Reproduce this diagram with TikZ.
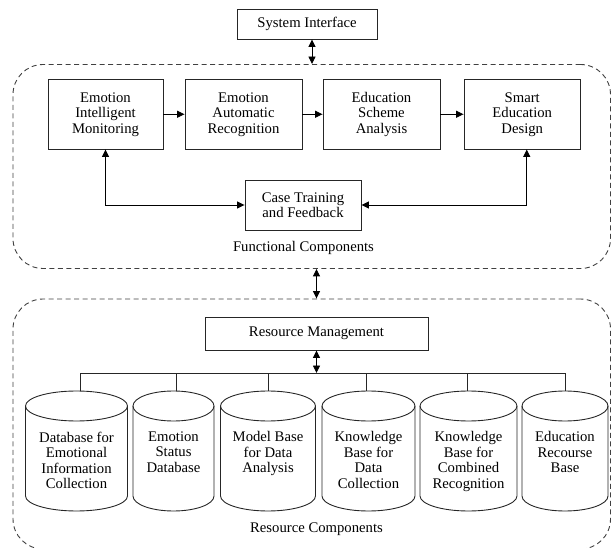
\documentclass[tikz,border=0pt]{standalone}
\usepackage{fontspec}
\setmainfont{Liberation Serif}
\usetikzlibrary{arrows.meta}
\newcommand\dbcyl[2]{%
  \draw[cylline] (#1-#2,406) -- (#1-#2,496) arc[start angle=180,end angle=360,x radius=#2pt,y radius=15pt] -- (#1+#2,406);
  \draw[cylline] (#1,406) ellipse[x radius=#2pt,y radius=15pt];}
\begin{document}
\begin{tikzpicture}[x=1pt,y=-1pt,
  txt/.style={font=\fontsize{14.7}{15.5}\selectfont},
  box/.style={txt, draw=black!85, line width=0.9pt, inner sep=0pt, align=center},
  container/.style={draw=black!75, line width=0.9pt, dash pattern=on 5pt off 3.5pt, rounded corners=30pt, inner sep=0pt},
  arr/.style={draw=black, line width=0.9pt, -{Triangle[length=7.5pt,width=7pt]}},
  dbl/.style={draw=black, line width=0.9pt, {Triangle[length=7.5pt,width=7pt]}-{Triangle[length=7.5pt,width=7pt]}},
  lbl/.style={txt, inner sep=0pt},
  cyltext/.style={txt, align=center, anchor=north, inner sep=0pt},
  cylline/.style={draw=black!85, line width=0.9pt},
  bus/.style={draw=black!85, line width=0.9pt}
]
\useasboundingbox (0,0) rectangle (611,548);

% containers
\node[container, minimum width=597.5pt, minimum height=204pt] (fc) at (311.75,166.5) {};
\node[container, minimum width=597.5pt, minimum height=250pt] (rc) at (311.75,424) {};

% top part
\node[box, minimum width=140pt, minimum height=30pt] (si) at (307,24) {System Interface};
\node[box, minimum width=115pt, minimum height=69.5pt] (b1) at (105.5,114.25) {Emotion\\Intelligent\\Monitoring};
\node[box, minimum width=117pt, minimum height=69.5pt] (b2) at (243.5,114.25) {Emotion\\Automatic\\Recognition};
\node[box, minimum width=117pt, minimum height=69.5pt] (b3) at (381.5,114.25) {Education\\Scheme\\Analysis};
\node[box, minimum width=116.5pt, minimum height=69.5pt] (b4) at (522.25,114.25) {Smart\\Education\\Design};
\node[box, minimum width=116pt, minimum height=50pt] (case) at (303,205) {Case Training\\and Feedback};
\node[lbl] (fclbl) at (303.5,248) {Functional Components};

\draw[dbl] ([xshift=5pt]si.south) -- ([xshift=5pt]si.south |- fc.north);
\draw[arr] (b1.east) -- (b2.west);
\draw[arr] (b2.east) -- (b3.west);
\draw[arr] (b3.east) -- (b4.west);
\draw[dbl] (b1.south) |- (case.west);
\draw[dbl] ([xshift=4.5pt]b4.south) |- (case.east);

% bottom part
\node[box, minimum width=223pt, minimum height=33pt] (rm) at (316.5,333.5) {Resource Management};
\draw[dbl] (rm.north |- fc.south) -- (rm.north |- rc.north);
\coordinate (bus) at (316.5,373);
\draw[dbl] (rm.south) -- (bus);

\dbcyl{76.5}{51}
\dbcyl{173.5}{40.5}
\dbcyl{268}{47.5}
\dbcyl{368.5}{46.5}
\dbcyl{468.5}{48.5}
\dbcyl{565}{43}

\coordinate (c1) at (80,391.2);
\coordinate (c2) at (176,391.2);
\coordinate (c3) at (268,391);
\coordinate (c4) at (366,391.1);
\coordinate (c5) at (467,391);
\coordinate (c6) at (565,391);

\node[cyltext] (t1) at (76.5,431.5) {Database for\\Emotional\\Information\\Collection};
\node[cyltext] (t2) at (173.5,431.5) {Emotion\\Status\\Database};
\node[cyltext] (t3) at (268,431.5) {Model Base\\for Data\\Analysis};
\node[cyltext] (t4) at (368.5,431.5) {Knowledge\\Base for\\Data\\Collection};
\node[cyltext] (t5) at (468.5,431.5) {Knowledge\\Base for\\Combined\\Recognition};
\node[cyltext] (t6) at (565,431.5) {Education\\Recourse\\Base};

\draw[bus] (c1) -- (c1 |- bus) -- (c6 |- bus) -- (c6);
\draw[bus] (c2) -- (c2 |- bus);
\draw[bus] (c3) -- (c3 |- bus);
\draw[bus] (c4) -- (c4 |- bus);
\draw[bus] (c5) -- (c5 |- bus);

\node[lbl] (rclbl) at (316.5,529) {Resource Components};
\end{tikzpicture}
\end{document}
